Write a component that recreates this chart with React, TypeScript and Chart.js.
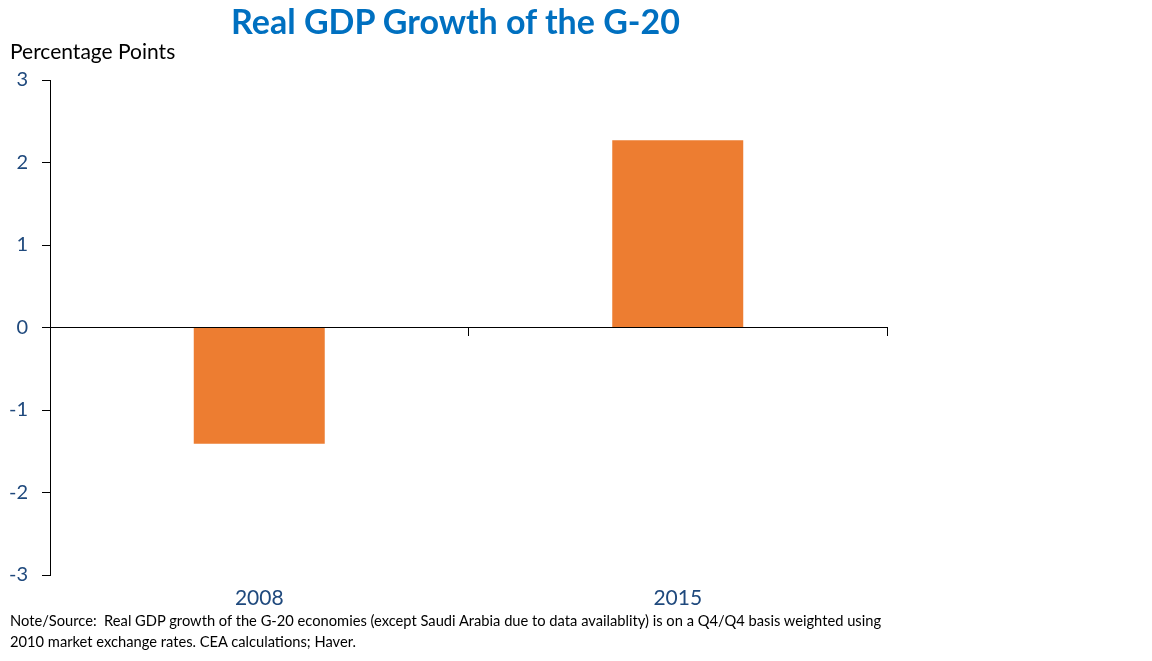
import React, { useEffect, useRef } from "react";
import { Chart, registerables } from "chart.js";

Chart.register(...registerables);

const titleText = "Real GDP Growth of the G-20";
const yAxisTitle = "Percentage Points";
const categories = ["2008", "2015"];
const growthValues = [-1.41, 2.27];
const yTicks = [-3, -2, -1, 0, 1, 2, 3];
const noteLines = [
  "Note/Source:  Real GDP growth of the G-20 economies (except Saudi Arabia due to data availablity) is on a Q4/Q4 basis weighted using",
  "2010 market exchange rates. CEA calculations; Haver.",
];

const FONT = "Lato, 'Noto Sans', sans-serif";

export default function App() {
  const ref = useRef<HTMLCanvasElement | null>(null);

  useEffect(() => {
    const canvas = ref.current;
    if (!canvas) return;
    const chart = new Chart(canvas, {
      type: "bar",
      data: {
        labels: categories,
        datasets: [
          {
            data: growthValues,
            backgroundColor: "#ED7D31",
            borderWidth: 0,
            barPercentage: 0.313,
            categoryPercentage: 1,
          },
        ],
      },
      options: {
        animation: false,
        responsive: false,
        maintainAspectRatio: false,
        layout: { padding: { top: 80, right: 265, left: 0, bottom: 0 } },
        plugins: {
          legend: { display: false },
          tooltip: { enabled: false },
          title: { display: false },
        },
        scales: {
          x: {
            type: "category",
            position: "bottom",
            grid: { display: false, drawTicks: false },
            border: { display: false },
            ticks: {
              color: "#1F497D",
              font: { family: FONT, size: 21 },
              padding: 11,
            },
            afterFit: (s: any) => {
              s.height = 86;
            },
          },
          xz: {
            type: "category",
            position: { y: 0 },
            offset: true,
            grid: {
              offset: true,
              drawOnChartArea: false,
              drawTicks: true,
              tickLength: 8,
              color: "#000000",
              lineWidth: 1,
            },
            border: { display: true, color: "#000000", width: 1 },
            ticks: { display: false },
          },
          y: {
            type: "linear",
            min: -3,
            max: 3,
            afterBuildTicks: (s: any) => {
              s.ticks = yTicks.map((v) => ({ value: v }));
            },
            ticks: {
              color: "#1F497D",
              font: { family: FONT, size: 20 },
              padding: 14,
            },
            grid: {
              drawOnChartArea: false,
              drawTicks: true,
              tickLength: 8,
              color: "#000000",
              lineWidth: 1,
            },
            border: { display: true, color: "#000000", width: 1 },
            afterFit: (s: any) => {
              s.width = 50;
            },
          },
        },
      } as any,
    });
    return () => chart.destroy();
  }, []);

  return (
    <div
      style={{
        position: "absolute",
        left: 0,
        top: 0,
        width: 1152,
        height: 661,
        background: "#ffffff",
        overflow: "hidden",
        fontFamily: FONT,
      }}
    >
      <canvas
        ref={ref}
        width={1152}
        height={661}
        style={{ position: "absolute", left: 0, top: 0, width: 1152, height: 661 }}
      />
      <div
        style={{
          position: "absolute",
          left: 0,
          width: 911,
          top: 1,
          textAlign: "center",
          color: "#0070C0",
          fontWeight: 700,
          fontSize: 34,
          lineHeight: "40px",
          whiteSpace: "nowrap",
        }}
      >
        {titleText}
      </div>
      <div
        style={{
          position: "absolute",
          left: 10,
          top: 38,
          color: "#000000",
          fontSize: 21,
          lineHeight: "26px",
          whiteSpace: "nowrap",
        }}
      >
        {yAxisTitle}
      </div>
      <div
        style={{
          position: "absolute",
          left: 10,
          top: 610,
          color: "#000000",
          fontSize: 14.7,
          lineHeight: "21px",
          whiteSpace: "pre",
        }}
      >
        {noteLines.map((l, i) => (
          <div key={i}>{l}</div>
        ))}
      </div>
    </div>
  );
}
